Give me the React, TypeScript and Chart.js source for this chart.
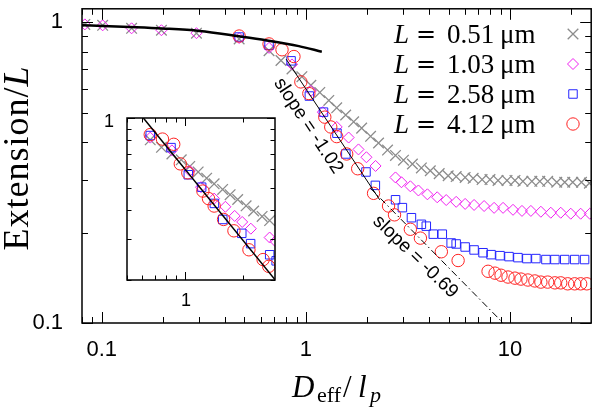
import React, { useEffect, useRef } from 'react';
import { Chart, registerables } from 'chart.js';

Chart.register(...registerables);

// ---- axis ranges ----
const X_MIN = 0.08;
const X_MAX = 25;
const Y_MIN = 0.1;
const Y_MAX = 1.11;
const INSET_X_MIN = 0.5;
const INSET_X_MAX = 2.93;
const INSET_Y_MIN = 0.2;
const INSET_Y_MAX = 1;

// ---- tick labels ----
const xTickLabels = [0.1, 1, 10];
const yTickLabels = [0.1, 1];
const insetXTickLabels = [1];
const insetYTickLabels = [1];

// ---- legend ----
const legendValues = ['0.51', '1.03', '2.58', '4.12'];

// ---- series: L = 0.51 um (grey crosses) ----
const grayX = [0.0826, 0.101, 0.14, 0.196, 0.291, 0.471, 0.66, 0.755, 0.855, 0.956, 1.058, 1.17, 1.295, 1.416, 1.567, 1.714, 1.876, 2.075, 2.27, 2.512, 2.748, 3.007, 3.326, 3.68, 4.07, 4.5, 4.98, 5.45, 6.03, 6.6, 7.3, 7.98, 8.74, 9.67, 10.58, 11.57, 12.8, 14.0, 15.3, 16.95, 18.55, 20.3, 22.4, 24.5];
const grayY = [0.985, 0.978, 0.956, 0.942, 0.921, 0.881, 0.805, 0.747, 0.7, 0.66, 0.618, 0.585, 0.55, 0.52, 0.492, 0.467, 0.445, 0.418, 0.397, 0.376, 0.361, 0.348, 0.338, 0.328, 0.321, 0.314, 0.309, 0.307, 0.305, 0.303, 0.3, 0.3, 0.298, 0.298, 0.298, 0.296, 0.296, 0.296, 0.296, 0.294, 0.294, 0.294, 0.294, 0.292];

// ---- series: L = 1.03 um (magenta diamonds) ----
const magentaX = [0.0826, 0.101, 0.14, 0.196, 0.291, 0.471, 0.66, 0.855, 1.058, 1.21, 1.416, 1.62, 1.81, 1.98, 2.195, 2.748, 2.94, 3.25, 3.56, 3.94, 4.4, 4.87, 5.45, 6.03, 6.67, 7.47, 8.36, 9.25, 10.35, 11.45, 12.66, 14.17, 15.85, 17.73, 19.85, 22.2, 24.6];
const magentaY = [0.985, 0.978, 0.956, 0.942, 0.921, 0.887, 0.823, 0.725, 0.592, 0.503, 0.449, 0.414, 0.378, 0.356, 0.333, 0.305, 0.294, 0.285, 0.276, 0.268, 0.262, 0.2565, 0.253, 0.249, 0.247, 0.245, 0.2416, 0.2416, 0.238, 0.236, 0.236, 0.2345, 0.2327, 0.2327, 0.231, 0.231, 0.231];

// ---- series: L = 2.58 um (blue squares) ----
const blueX = [0.471, 0.66, 0.846, 1.04, 1.22, 1.42, 1.57, 1.97, 2.19, 2.75, 2.97, 3.29, 3.68, 3.89, 4.21, 4.66, 5.15, 5.45, 6.03, 6.67, 7.38, 8.08, 8.94, 9.89, 10.94, 12.1, 13.4, 15.0, 16.6, 18.55, 20.75, 23.2];
const blueY = [0.894, 0.84, 0.745, 0.569, 0.503, 0.428, 0.365, 0.318, 0.287, 0.257, 0.242, 0.224, 0.213, 0.21, 0.1975, 0.1975, 0.1846, 0.1832, 0.179, 0.175, 0.1713, 0.1688, 0.1675, 0.1663, 0.165, 0.1638, 0.1638, 0.1626, 0.1626, 0.1626, 0.1626, 0.1626];

// ---- series: L = 4.12 um (red circles) ----
const redX = [0.471, 0.66, 0.764, 0.874, 0.945, 1.034, 1.238, 1.324, 1.416, 1.585, 1.794, 2.146, 2.541, 2.718, 3.25, 3.64, 4.61, 5.57, 7.81, 8.45, 9.04, 9.78, 10.58, 11.32, 12.24, 13.24, 14.17, 15.3, 16.6, 17.73, 19.18, 20.75, 22.2, 23.8];
const redY = [0.901, 0.848, 0.811, 0.77, 0.634, 0.58, 0.484, 0.449, 0.417, 0.365, 0.326, 0.27, 0.245, 0.229, 0.205, 0.1916, 0.1726, 0.1614, 0.1486, 0.1465, 0.1442, 0.1422, 0.141, 0.14, 0.139, 0.138, 0.1368, 0.1368, 0.136, 0.136, 0.135, 0.135, 0.135, 0.135];

// ---- theory curve (thick black) ----
const curveX = [0.08, 0.109, 0.137, 0.198, 0.301, 0.471, 0.638, 0.924, 1.197];
const curveY = [0.978, 0.972, 0.966, 0.955, 0.937, 0.899, 0.872, 0.834, 0.799];

// ---- power-law guides ----
const slopeAX = [0.8, 2.3];
const slopeAY = [0.755, 0.257];
const slopeInsetX = [0.55, 3.0];
const slopeInsetY = [1.107, 0.196];
const slopeBX = [2.07, 9.25];
const slopeBY = [0.281, 0.1];

const slopeLabels = ['slope = -1.02', 'slope = -0.69'];
const slopeLabelX = [1.028, 3.44];
const slopeLabelY = [0.453, 0.166];
const slopeLabelAngle = [56.5, 44];

type Series = { xs: number[]; ys: number[]; style: string; r: number; color: string; lw: number; order: number };
const series: Series[] = [
  { xs: grayX, ys: grayY, style: 'crossRot', r: 7.5, color: '#8c8c8c', lw: 1.3, order: 5 },
  { xs: magentaX, ys: magentaY, style: 'rectRot', r: 5.5, color: '#f020f0', lw: 1, order: 4 },
  { xs: blueX, ys: blueY, style: 'rect', r: 6, color: '#2424ff', lw: 1, order: 3 },
  { xs: redX, ys: redY, style: 'circle', r: 6.2, color: '#ff2222', lw: 1, order: 2 },
];

const pts = (xs: number[], ys: number[]) => xs.map((x, i) => ({ x, y: ys[i] }));

function logTicks(min: number, max: number) {
  const out: { v: number; major: boolean }[] = [];
  for (let e = -3; e <= 3; e++) {
    for (let k = 1; k <= 9; k++) {
      const v = k * Math.pow(10, e);
      if (v >= min * 0.999 && v <= max * 1.001) out.push({ v, major: k === 1 });
    }
  }
  return out;
}

function drawMarker(ctx: CanvasRenderingContext2D, style: string, x: number, y: number, r: number, color: string, lw: number) {
  ctx.save();
  ctx.strokeStyle = color;
  ctx.lineWidth = lw;
  ctx.beginPath();
  if (style === 'crossRot') {
    const d = r * Math.SQRT1_2;
    ctx.moveTo(x - d, y - d); ctx.lineTo(x + d, y + d);
    ctx.moveTo(x + d, y - d); ctx.lineTo(x - d, y + d);
  } else if (style === 'rectRot') {
    ctx.moveTo(x - r, y); ctx.lineTo(x, y - r); ctx.lineTo(x + r, y); ctx.lineTo(x, y + r); ctx.closePath();
  } else if (style === 'rect') {
    const s = r * Math.SQRT1_2;
    ctx.rect(x - s, y - s, 2 * s, 2 * s);
  } else {
    ctx.arc(x, y, r, 0, Math.PI * 2);
  }
  ctx.stroke();
  ctx.restore();
}

function drawFrameAndTicks(chart: any, xMin: number, xMax: number, yMin: number, yMax: number, major: number, minor: number, frameW: number) {
  const { ctx, chartArea: a, scales } = chart;
  const xs = scales.x, ys = scales.y;
  ctx.save();
  ctx.strokeStyle = '#000';
  ctx.lineWidth = 1;
  ctx.beginPath();
  for (const t of logTicks(xMin, xMax)) {
    const px = Math.round(xs.getPixelForValue(t.v)) + 0.5;
    const L = t.major ? major : minor;
    ctx.moveTo(px, a.bottom); ctx.lineTo(px, a.bottom - L);
    ctx.moveTo(px, a.top); ctx.lineTo(px, a.top + L);
  }
  for (const t of logTicks(yMin, yMax)) {
    const py = Math.round(ys.getPixelForValue(t.v)) + 0.5;
    const L = t.major ? major : minor;
    ctx.moveTo(a.left, py); ctx.lineTo(a.left + L, py);
    ctx.moveTo(a.right, py); ctx.lineTo(a.right - L, py);
  }
  ctx.stroke();
  ctx.lineWidth = frameW;
  ctx.strokeRect(a.left, a.top, a.right - a.left, a.bottom - a.top);
  ctx.restore();
}

const SERIF = "'Liberation Serif', 'DejaVu Serif', serif";
const SERIF_EQ = "'DejaVu Serif', serif";
const SANS = "'Liberation Sans', Arial, sans-serif";

const mainDecor = {
  id: 'mainDecor',
  afterDraw(chart: any) {
    const { ctx, chartArea: a, scales } = chart;
    drawFrameAndTicks(chart, X_MIN, X_MAX, Y_MIN, Y_MAX, 11, 6, 1.5);
    ctx.save();
    ctx.fillStyle = '#000';
    // tick labels
    ctx.font = `22px ${SANS}`;
    ctx.textAlign = 'center';
    ctx.textBaseline = 'middle';
    for (const v of xTickLabels) ctx.fillText(String(v), scales.x.getPixelForValue(v), a.bottom + 27);
    ctx.textAlign = 'right';
    for (const v of yTickLabels) ctx.fillText(String(v), a.left - 19, scales.y.getPixelForValue(v));

    // y title
    ctx.save();
    ctx.translate(28, 158);
    ctx.rotate(-Math.PI / 2);
    ctx.textAlign = 'left';
    ctx.textBaseline = 'alphabetic';
    (ctx as any).letterSpacing = '1px';
    ctx.font = `36px ${SERIF}`;
    const part1 = 'Extension/';
    const w1 = ctx.measureText(part1).width;
    ctx.font = `italic 36px ${SERIF}`;
    const w2 = ctx.measureText('L').width;
    const start = -(w1 + w2) / 2;
    ctx.font = `36px ${SERIF}`;
    ctx.fillText(part1, start, 0);
    ctx.font = `italic 36px ${SERIF}`;
    ctx.fillText('L', start + w1, 0);
    (ctx as any).letterSpacing = '0px';
    ctx.restore();

    // x title
    ctx.textAlign = 'left';
    ctx.textBaseline = 'alphabetic';
    ctx.font = `italic 31px ${SERIF}`;
    ctx.fillText('D', 292, 397);
    ctx.font = `22px ${SERIF}`;
    ctx.fillText('eff', 317, 402);
    ctx.font = `31px ${SERIF}`;
    ctx.fillText('/', 343, 397);
    ctx.font = `italic 31px ${SERIF}`;
    ctx.fillText('l', 358, 397);
    ctx.font = `italic 22px ${SERIF}`;
    ctx.fillText('p', 370, 402);

    // legend
    const baselines = [43, 73, 103, 133];
    legendValues.forEach((val, i) => {
      const b = baselines[i];
      ctx.font = `italic 27px ${SERIF}`;
      ctx.fillText('L', 394, b);
      ctx.font = `24px ${SERIF_EQ}`;
      ctx.fillText('=', 416, b - 1);
      ctx.font = `27px ${SERIF}`;
      ctx.fillText(val, 447, b);
      ctx.fillText('\u03bcm', 500, b);
      const s = series[i];
      drawMarker(ctx, s.style, 573, b - 9, s.r, s.color, s.lw);
    });

    // slope annotations
    ctx.font = `19px ${SANS}`;
    ctx.textAlign = 'center';
    ctx.textBaseline = 'middle';
    slopeLabels.forEach((lab, i) => {
      const px = scales.x.getPixelForValue(slopeLabelX[i]);
      const py = scales.y.getPixelForValue(slopeLabelY[i]);
      ctx.save();
      ctx.translate(px, py);
      ctx.rotate((slopeLabelAngle[i] * Math.PI) / 180);
      ctx.fillText(lab, 0, 0);
      ctx.restore();
    });
    ctx.restore();
  },
};

const insetDecor = {
  id: 'insetDecor',
  afterDraw(chart: any) {
    const { ctx, chartArea: a, scales } = chart;
    drawFrameAndTicks(chart, INSET_X_MIN, INSET_X_MAX, INSET_Y_MIN, INSET_Y_MAX, 8, 4.5, 1.5);
    ctx.save();
    ctx.fillStyle = '#000';
    ctx.font = `18px ${SANS}`;
    ctx.textAlign = 'center';
    ctx.textBaseline = 'middle';
    for (const v of insetXTickLabels) ctx.fillText(String(v), scales.x.getPixelForValue(v) + 1, a.bottom + 21);
    ctx.textAlign = 'right';
    for (const v of insetYTickLabels) ctx.fillText(String(v), a.left - 13, scales.y.getPixelForValue(v) + 4);
    ctx.restore();
  },
};

function markerDatasets(inset: boolean) {
  return series.map((s) => {
    let data = pts(s.xs, s.ys);
    if (inset) data = data.filter((p) => p.x >= INSET_X_MIN && p.x <= 3.0 && p.y >= INSET_Y_MIN && p.y <= INSET_Y_MAX);
    return {
      data,
      showLine: false,
      pointStyle: s.style as any,
      pointRadius: s.r,
      pointBorderWidth: s.lw,
      pointBorderColor: s.color,
      pointBackgroundColor: 'rgba(0,0,0,0)',
      order: s.order,
    };
  });
}

export default function App() {
  const mainRef = useRef<HTMLCanvasElement>(null);
  const insetRef = useRef<HTMLCanvasElement>(null);

  useEffect(() => {
    const common = {
      responsive: false,
      animation: false as const,
      events: [] as any[],
      plugins: { legend: { display: false }, tooltip: { enabled: false }, title: { display: false } },
    };

    const main = new Chart(mainRef.current as HTMLCanvasElement, {
      type: 'scatter',
      data: {
        datasets: [
          ...markerDatasets(false),
          {
            data: pts(curveX, curveY),
            showLine: true,
            borderColor: '#000',
            borderWidth: 2.5,
            pointRadius: 0,
            cubicInterpolationMode: 'monotone',
            order: 0,
          } as any,
          {
            data: pts(slopeAX, slopeAY),
            showLine: true,
            borderColor: '#000',
            borderWidth: 1,
            pointRadius: 0,
            order: 0,
          },
          {
            data: pts(slopeBX, slopeBY),
            showLine: true,
            borderColor: '#000',
            borderWidth: 1,
            borderDash: [7, 3, 1.5, 3],
            pointRadius: 0,
            order: 0,
          },
        ],
      },
      options: {
        ...common,
        layout: { padding: { left: 82, right: 7, top: 1, bottom: 85 } },
        scales: {
          x: { type: 'logarithmic', min: X_MIN, max: X_MAX, display: false },
          y: { type: 'logarithmic', min: Y_MIN, max: Y_MAX, display: false },
        },
      },
      plugins: [mainDecor],
    } as any);

    const inset = new Chart(insetRef.current as HTMLCanvasElement, {
      type: 'scatter',
      data: {
        datasets: [
          ...markerDatasets(true),
          {
            data: pts(slopeInsetX, slopeInsetY),
            showLine: true,
            borderColor: '#000',
            borderWidth: 1.5,
            pointRadius: 0,
            order: 0,
            clip: 0,
          },
        ],
      },
      options: {
        ...common,
        layout: { padding: { left: 32, right: 15, top: 18, bottom: 35 } },
        scales: {
          x: { type: 'logarithmic', min: INSET_X_MIN, max: INSET_X_MAX, display: false },
          y: { type: 'logarithmic', min: INSET_Y_MIN, max: INSET_Y_MAX, display: false },
        },
      },
      plugins: [insetDecor],
    } as any);

    return () => {
      main.destroy();
      inset.destroy();
    };
  }, []);

  return (
    <div style={{ position: 'fixed', left: 0, top: 0, width: 600, height: 408, background: '#fff' }}>
      <canvas ref={mainRef} width={600} height={408} style={{ position: 'absolute', left: 0, top: 0, width: 600, height: 408 }} />
      <canvas ref={insetRef} width={195} height={215} style={{ position: 'absolute', left: 95, top: 100, width: 195, height: 215 }} />
    </div>
  );
}
